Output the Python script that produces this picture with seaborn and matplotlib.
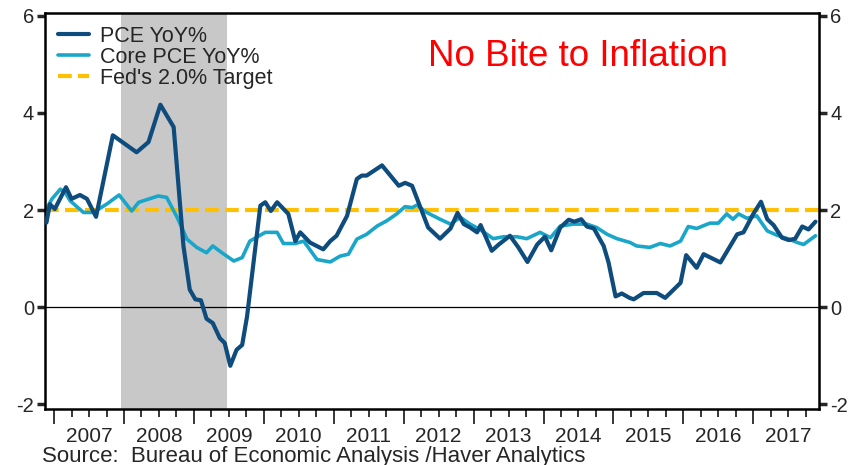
import numpy as np
import pandas as pd
import matplotlib
matplotlib.use("Agg")
import matplotlib.pyplot as plt
import seaborn as sns

# values (decimal year, % yoy)
pce_year = [2006.89, 2006.94, 2007.01, 2007.17, 2007.25, 2007.37, 2007.47, 2007.60, 2007.84,
            2008.18, 2008.35, 2008.52, 2008.71, 2008.85, 2008.94, 2009.02, 2009.10, 2009.18,
            2009.27, 2009.37, 2009.44, 2009.52, 2009.61, 2009.69, 2009.76, 2009.95, 2010.02,
            2010.10, 2010.19, 2010.35, 2010.45, 2010.52, 2010.66, 2010.85, 2010.95, 2011.04,
            2011.19, 2011.33, 2011.40, 2011.47, 2011.69, 2011.81, 2011.93, 2012.02, 2012.12,
            2012.35, 2012.52, 2012.67, 2012.77, 2012.86, 2012.95, 2013.05, 2013.10, 2013.26,
            2013.36, 2013.52, 2013.64, 2013.77, 2013.91, 2014.02, 2014.11, 2014.24, 2014.36,
            2014.44, 2014.54, 2014.62, 2014.72, 2014.86, 2014.93, 2015.03, 2015.12, 2015.23,
            2015.29, 2015.43, 2015.62, 2015.74, 2015.84, 2015.96, 2016.04, 2016.19, 2016.29,
            2016.53, 2016.77, 2016.86, 2017.00, 2017.11, 2017.20, 2017.29, 2017.41, 2017.51,
            2017.60, 2017.70, 2017.79, 2017.89]
pce_val = [1.74, 2.12, 2.02, 2.47, 2.23, 2.31, 2.23, 1.86, 3.54,
           3.19, 3.40, 4.17, 3.71, 1.26, 0.36, 0.16, 0.14, -0.24,
           -0.33, -0.64, -0.74, -1.21, -0.88, -0.78, -0.19, 2.09, 2.16,
           1.98, 2.16, 1.92, 1.36, 1.54, 1.33, 1.19, 1.36, 1.47,
           1.88, 2.64, 2.71, 2.71, 2.92, 2.71, 2.50, 2.56, 2.50,
           1.64, 1.41, 1.62, 1.94, 1.71, 1.64, 1.54, 1.69, 1.16,
           1.29, 1.47, 1.23, 0.93, 1.29, 1.45, 1.17, 1.64, 1.80,
           1.76, 1.81, 1.66, 1.62, 1.26, 0.92, 0.22, 0.28, 0.19,
           0.16, 0.29, 0.29, 0.19, 0.33, 0.50, 1.07, 0.81, 1.09,
           0.92, 1.50, 1.54, 1.92, 2.17, 1.81, 1.69, 1.43, 1.38,
           1.41, 1.66, 1.60, 1.76]

core_year = [2006.89, 2006.97, 2007.09, 2007.16, 2007.23, 2007.42, 2007.56, 2007.75, 2007.93,
             2008.11, 2008.21, 2008.49, 2008.61, 2008.76, 2008.90, 2009.04, 2009.18, 2009.27,
             2009.40, 2009.57, 2009.69, 2009.80, 2010.02, 2010.19, 2010.28, 2010.45, 2010.57,
             2010.76, 2010.95, 2011.09, 2011.21, 2011.33, 2011.47, 2011.62, 2011.76, 2011.90,
             2012.02, 2012.12, 2012.19, 2012.33, 2012.52, 2012.67, 2012.81, 2012.95, 2013.09,
             2013.28, 2013.43, 2013.62, 2013.76, 2013.95, 2014.10, 2014.24, 2014.43, 2014.62,
             2014.76, 2014.91, 2015.05, 2015.24, 2015.33, 2015.52, 2015.67, 2015.81, 2015.96,
             2016.07, 2016.19, 2016.38, 2016.50, 2016.62, 2016.71, 2016.79, 2016.91, 2017.05,
             2017.20, 2017.34, 2017.51, 2017.63, 2017.72, 2017.89]
core_val = [2.02, 2.23, 2.43, 2.36, 2.19, 1.95, 1.95, 2.12, 2.31,
            1.98, 2.16, 2.29, 2.26, 1.85, 1.40, 1.23, 1.12, 1.26,
            1.12, 0.95, 1.02, 1.36, 1.54, 1.54, 1.31, 1.31, 1.36,
            0.98, 0.93, 1.05, 1.09, 1.40, 1.50, 1.67, 1.78, 1.92,
            2.07, 2.05, 2.10, 1.95, 1.81, 1.71, 1.85, 1.71, 1.60,
            1.41, 1.45, 1.45, 1.41, 1.54, 1.43, 1.67, 1.71, 1.71,
            1.64, 1.50, 1.41, 1.33, 1.26, 1.23, 1.31, 1.26, 1.36,
            1.66, 1.62, 1.73, 1.73, 1.92, 1.81, 1.92, 1.83, 1.88,
            1.57, 1.48, 1.40, 1.33, 1.29, 1.47]

fed_target = 2.0
recession = (2007.95, 2009.47)
years = list(range(2007, 2018))
year_labels = [str(y) for y in years]
yticks = [-2, 0, 2, 4, 6]

PCE_COL = "#0E4C7D"
CORE_COL = "#1AA6C8"
FED_COL = "#FFC000"

sns.set_style("ticks")
plt.rcParams['font.family'] = ['Liberation Sans', 'DejaVu Sans']

fig = plt.figure(figsize=(8.51, 4.65), dpi=100)
ax = fig.add_axes([45/851, 1-409/465, (819-45)/851, (409-13)/465])

ax.axvspan(recession[0], recession[1], color="#C8C8C8", lw=0, zorder=0)
ax.axhline(0, color="black", lw=0.9, zorder=1)
ax.axhline(fed_target, color=FED_COL, lw=3, dashes=(3.3, 1.5), zorder=1.5,
           label="Fed's 2.0% Target")

pce = pd.DataFrame({"year": pce_year, "val": pce_val})
core = pd.DataFrame({"year": core_year, "val": core_val})
sns.lineplot(data=core, x="year", y="val", color=CORE_COL, lw=2.6, estimator=None,
             ax=ax, label="Core PCE YoY%", zorder=2)
sns.lineplot(data=pce, x="year", y="val", color=PCE_COL, lw=3.0, estimator=None,
             ax=ax, label="PCE YoY%", zorder=3)

ax.set_xlim(2006.87, 2017.94)
ax.set_ylim(-2.1, 6.06)
ax.set_xlabel("")
ax.set_ylabel("")

ax.set_yticks(yticks)
ax.set_yticklabels([str(v) for v in yticks])
ax.tick_params(axis="y", left=True, right=True, labelleft=True, labelright=True,
               direction="out", length=6, width=2.5, labelsize=14.5, pad=2)

ax.set_xticks(years)
ax.set_xticklabels([])
ax.set_xticks([y + q / 4 for y in range(2006, 2018) for q in range(4)
               if 2006.87 < y + q / 4 < 2017.94], minor=True)
ax.tick_params(axis="x", which="major", direction="out", length=11, width=1.3)
ax.tick_params(axis="x", which="minor", direction="out", length=6, width=1.3)

sec = ax.secondary_xaxis("bottom")
sec.set_xticks([y + 0.5 for y in years])
sec.set_xticklabels(year_labels)
sec.tick_params(length=0, labelsize=15, pad=13)
sec.spines["bottom"].set_visible(False)

for s in ax.spines.values():
    s.set_linewidth(1.8)
    s.set_color("black")

h, l = ax.get_legend_handles_labels()
order = {lab: hh for hh, lab in zip(h, l)}
labs = ["PCE YoY%", "Core PCE YoY%", "Fed's 2.0% Target"]
leg = ax.legend([order[k] for k in labs], labs, loc="upper left", frameon=False,
                fontsize=15.5, handlelength=1.45, handletextpad=0.5, labelspacing=0.0,
                bbox_to_anchor=(0.0, 1.0), borderaxespad=0.2)

ax.text(0.495, 0.89, "No Bite to Inflation", transform=ax.transAxes, color="red",
        fontsize=26.5, ha="left", va="center")

fig.text(42/851, 1-456/465, "Source:  Bureau of Economic Analysis /Haver Analytics",
         fontsize=16, ha="left", va="center")

fig.savefig("out.png", dpi=100)
